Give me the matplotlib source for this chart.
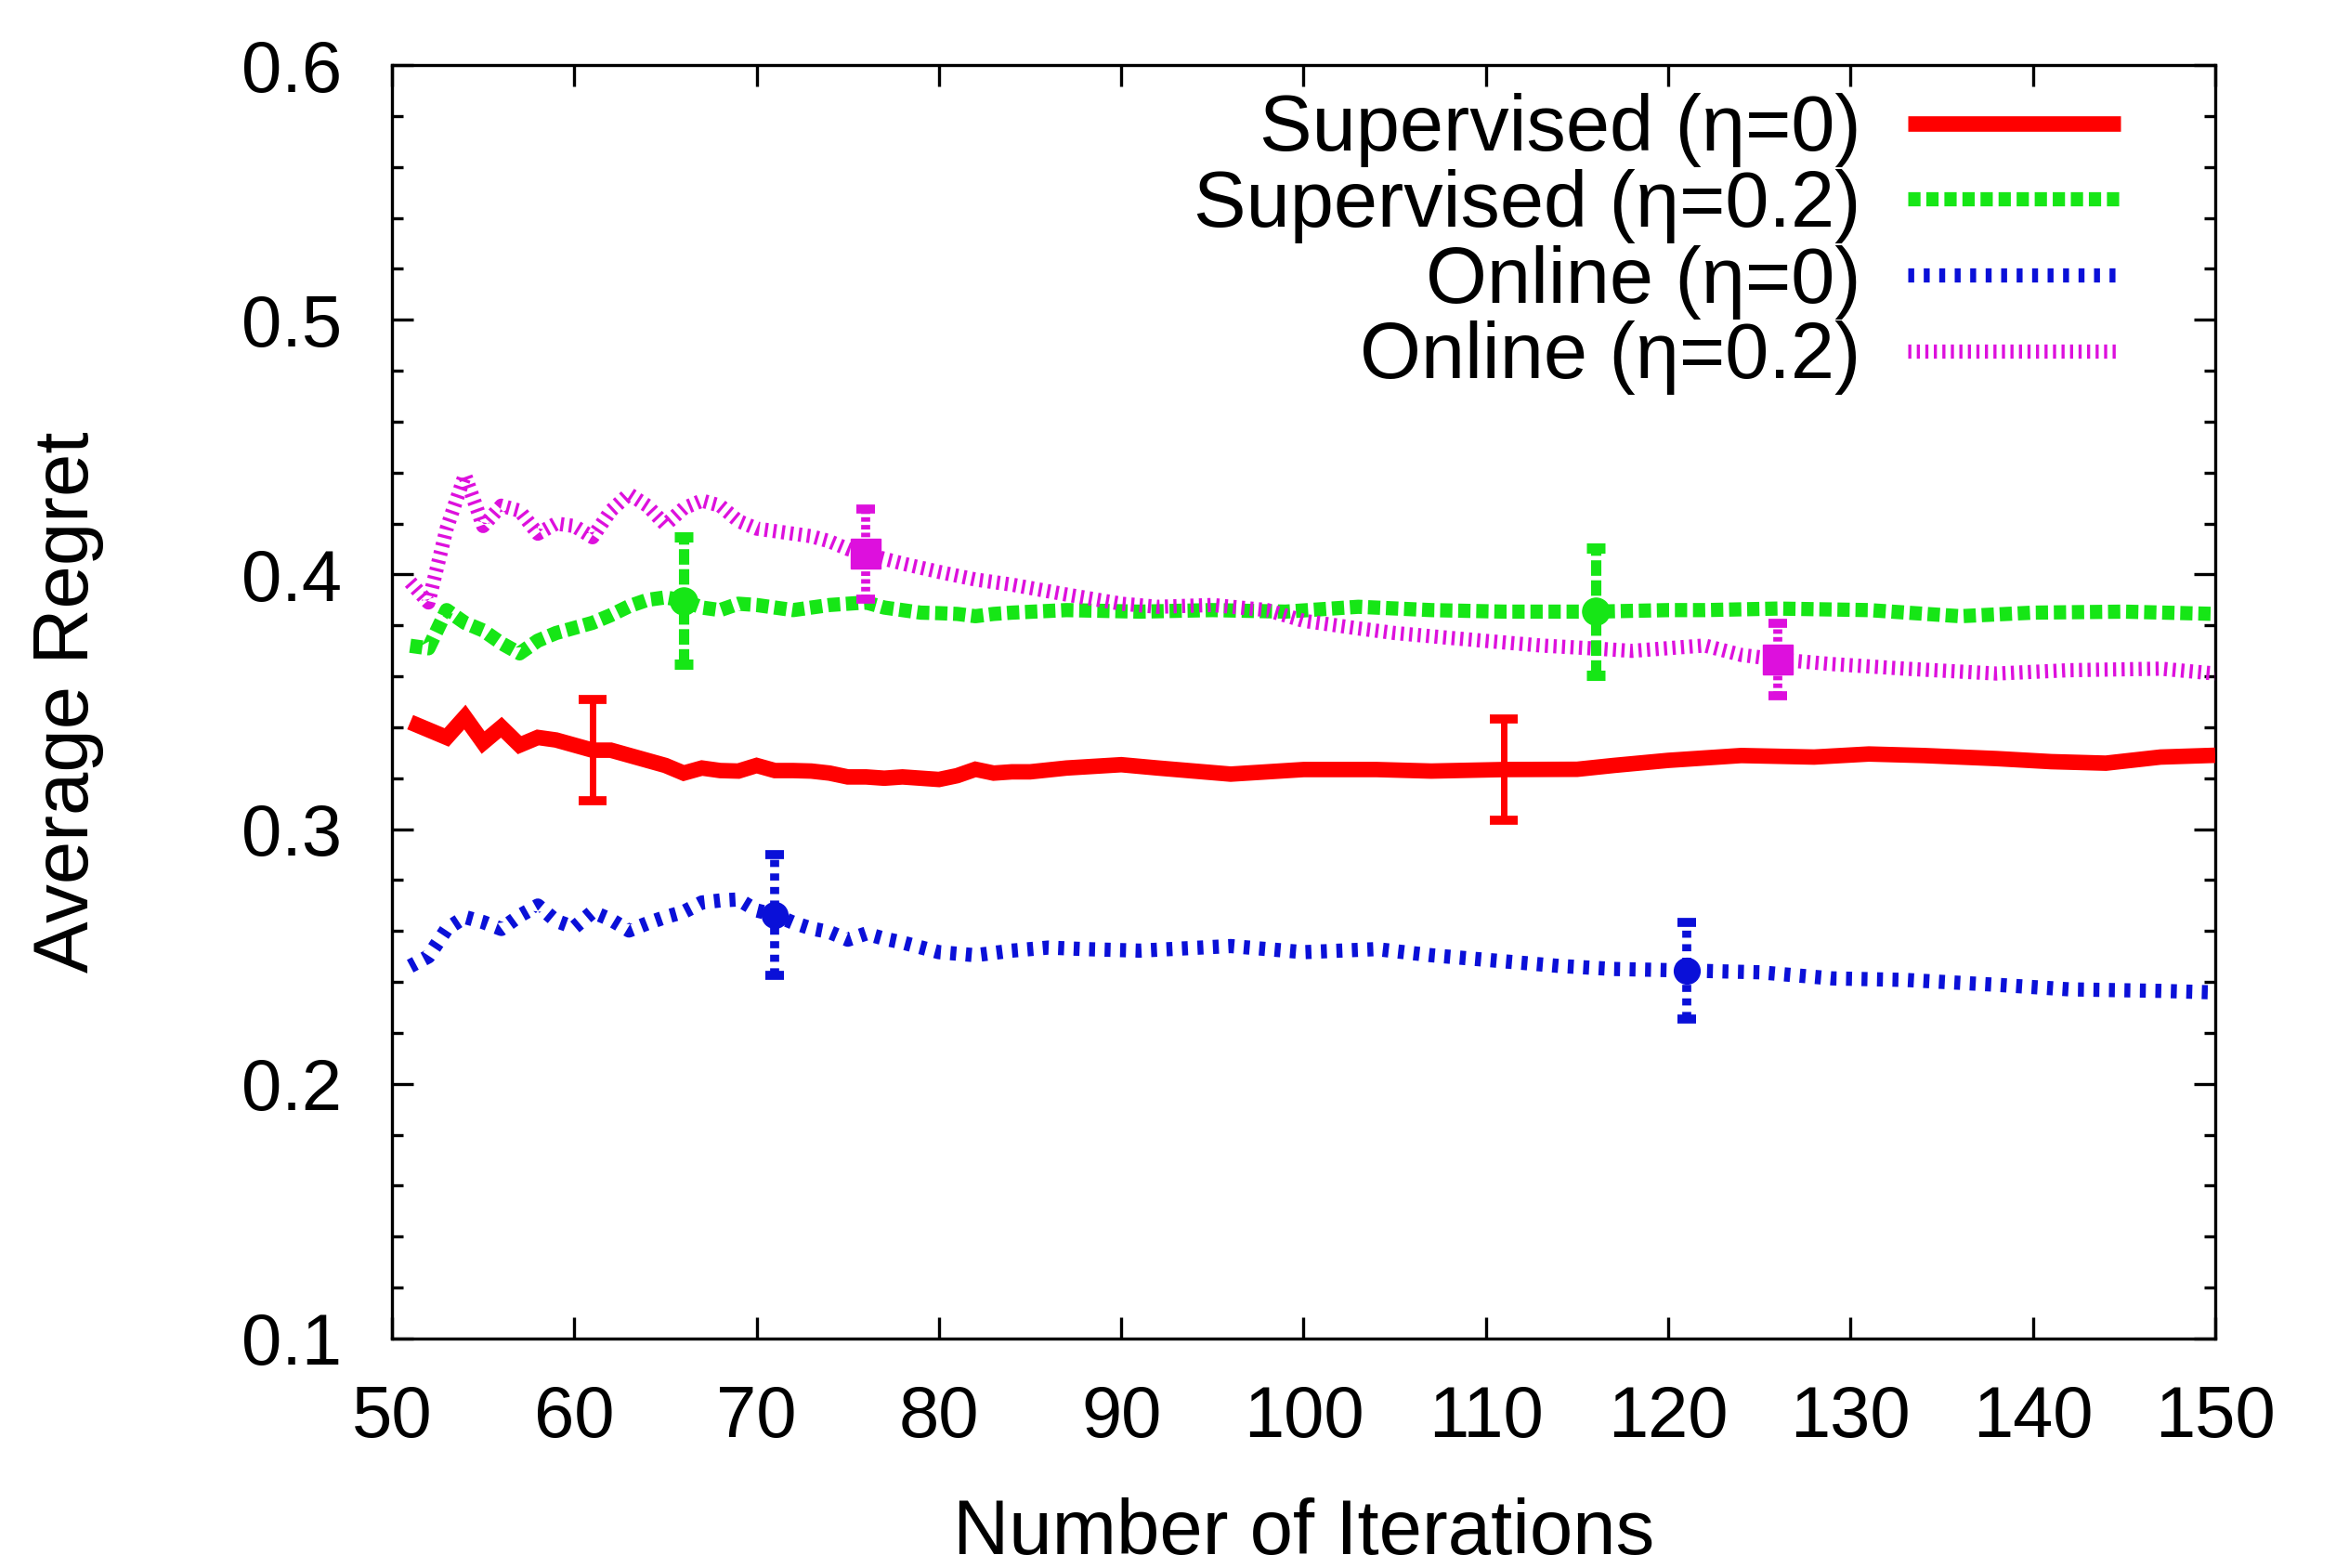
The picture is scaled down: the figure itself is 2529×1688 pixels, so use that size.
import matplotlib
matplotlib.use("Agg")
import matplotlib.pyplot as plt
from matplotlib.ticker import MultipleLocator

plt.rcParams['font.family'] = ['Liberation Sans', 'DejaVu Sans']
plt.rcParams['lines.scale_dashes'] = False

# ---------------- data ----------------
sup0_x = [51, 52, 53, 54, 55, 56, 57, 58, 59, 60, 61, 62, 63, 64, 65, 66, 67, 68, 69, 70,
          71, 72, 73, 74, 75, 76, 77, 78, 79, 80, 81, 82, 83, 84, 85, 87, 90, 92, 96, 100,
          104, 107, 111, 115, 117, 120, 124, 128, 131, 134, 138, 141, 144, 147, 150]
sup0_y = [0.342, 0.339, 0.336, 0.344, 0.334, 0.340, 0.333, 0.336, 0.335, 0.333, 0.331, 0.331,
          0.329, 0.327, 0.325, 0.322, 0.324, 0.323, 0.3228, 0.325, 0.323, 0.323, 0.3228, 0.322,
          0.3205, 0.3205, 0.320, 0.3205, 0.320, 0.3195, 0.321, 0.3235, 0.322, 0.3225, 0.3225,
          0.324, 0.3253, 0.324, 0.3216, 0.3234, 0.3234, 0.3228, 0.3234, 0.3235, 0.325, 0.327,
          0.3289, 0.3283, 0.3295, 0.3289, 0.3277, 0.3265, 0.3259, 0.3283, 0.329]

sup2_x = [51, 52, 53, 54, 55, 56, 57, 58, 59, 60, 61, 62, 63, 64, 65, 66, 67, 68, 69, 70,
          71, 72, 73, 74, 75, 76, 77, 78, 79, 80, 81, 82, 83, 84, 87, 91, 95, 99, 103, 107,
          111, 116, 120, 122, 126, 131, 136, 140, 145, 150]
sup2_y = [0.372, 0.371, 0.386, 0.381, 0.378, 0.373, 0.369, 0.374, 0.377, 0.379, 0.381, 0.384,
          0.3875, 0.390, 0.391, 0.3897, 0.387, 0.386, 0.3885, 0.388, 0.387, 0.386, 0.387, 0.388,
          0.3885, 0.389, 0.387, 0.386, 0.385, 0.3848, 0.3845, 0.3836, 0.3845, 0.385, 0.386,
          0.3854, 0.386, 0.3854, 0.3873, 0.386, 0.3854, 0.3854, 0.386, 0.386, 0.3866, 0.386,
          0.3836, 0.385, 0.3854, 0.3845]

onl0_x = [51, 52, 53, 54, 55, 56, 57, 58, 59, 60, 61, 62, 63, 64, 65, 66, 67, 68, 69, 70,
          71, 72, 73, 74, 75, 76, 77, 78, 80, 82, 84, 86, 88, 91, 96, 100, 104, 107, 110, 114,
          117, 121, 125, 129, 133, 138, 142, 147, 150]
onl0_y = [0.2462, 0.250, 0.2608, 0.2655, 0.2635, 0.2608, 0.266, 0.270, 0.264, 0.2614, 0.2675,
          0.2645, 0.2602, 0.263, 0.2655, 0.2675, 0.2712, 0.272, 0.2724, 0.2681, 0.2663, 0.2633,
          0.261, 0.2596, 0.2566, 0.259, 0.257, 0.2555, 0.2517, 0.2505, 0.2523, 0.2535, 0.2529,
          0.2523, 0.2541, 0.2517, 0.2529, 0.2505, 0.2487, 0.2463, 0.2451, 0.2445, 0.2438,
          0.2414, 0.2408, 0.2389, 0.2371, 0.2365, 0.2359]

onl2_x = [51, 52, 53, 54, 55, 56, 57, 58, 59, 60, 61, 62, 63, 64, 65, 66, 67, 68, 69, 70,
          71, 72, 73, 74, 75, 76, 78, 80, 82, 84, 87, 90, 92, 95, 98, 100, 103, 105, 108, 111,
          113, 116, 118, 122, 124, 126, 129, 133, 138, 142, 147, 150]
onl2_y = [0.397, 0.389, 0.418, 0.439, 0.419, 0.427, 0.425, 0.416, 0.420, 0.419, 0.4146,
          0.425, 0.4316, 0.427, 0.4195, 0.426, 0.429, 0.427, 0.421, 0.418, 0.417, 0.416, 0.415,
          0.413, 0.410, 0.408, 0.4043, 0.401, 0.398, 0.396, 0.3921, 0.3885, 0.3873, 0.388,
          0.386, 0.3818, 0.3788, 0.377, 0.3751, 0.3733, 0.3721, 0.3709, 0.370, 0.3721, 0.3684,
          0.3666, 0.3648, 0.363, 0.3611, 0.3624, 0.363, 0.3611]

# error bars (x, centre, half-width)
sup0_ex = [61, 111]; sup0_ey = [0.331, 0.3234]; sup0_ee = [0.020, 0.0198]
sup2_ex = [66, 116]; sup2_ey = [0.3897, 0.3854]; sup2_ee = [0.025, 0.025]
onl0_ex = [71, 121]; onl0_ey = [0.2663, 0.2445]; onl0_ee = [0.0237, 0.019]
onl2_ex = [76, 126]; onl2_ey = [0.408, 0.3666]; onl2_ee = [0.0177, 0.0143]

labels = ['Supervised (η=0)', 'Supervised (η=0.2)', 'Online (η=0)', 'Online (η=0.2)']
xticks = [50, 60, 70, 80, 90, 100, 110, 120, 130, 140, 150]
yticks = [0.1, 0.2, 0.3, 0.4, 0.5, 0.6]

# ---------------- figure ----------------
fig = plt.figure(figsize=(25.29, 16.88), dpi=100)
ax = fig.add_axes([0.16686, 0.14633, 0.7762, 0.8122])

c_red, c_green, c_blue, c_mag = '#ff0000', '#16e616', '#0a10d8', '#dd10dd'

l1, = ax.plot(sup0_x, sup0_y, color=c_red, lw=12, solid_joinstyle='miter',
              solid_capstyle='butt', label=labels[0], zorder=4)
l2, = ax.plot(sup2_x, sup2_y, color=c_green, lw=11, dashes=(9.5, 4.5),
              label=labels[1], zorder=3)
l3, = ax.plot(onl0_x, onl0_y, color=c_blue, lw=11, dashes=(4.6, 7.4),
              label=labels[2], zorder=3)
l4, = ax.plot(onl2_x, onl2_y, color=c_mag, lw=11, dashes=(2.4, 4.2),
              label=labels[3], zorder=3)

# error bars
ax.errorbar(sup0_ex, sup0_ey, yerr=sup0_ee, fmt='none', ecolor=c_red,
            elinewidth=5, capsize=11, capthick=7, zorder=5)

def dashed_err(xs, ys, es, color, lw, dash, cap):
    eb = ax.errorbar(xs, ys, yerr=es, fmt='none', ecolor=color, elinewidth=lw,
                     capsize=cap, capthick=lw, zorder=5)
    for col in eb[2]:
        col.set_linestyle((0, dash))
    return eb

dashed_err(sup2_ex, sup2_ey, sup2_ee, c_green, 8, (12, 3.5), 7.5)
dashed_err(onl0_ex, onl0_ey, onl0_ee, c_blue, 7, (5.5, 5), 7.5)
dashed_err(onl2_ex, onl2_ey, onl2_ee, c_mag, 7, (3.5, 2.5), 7.5)

ax.plot(sup2_ex, sup2_ey, 'o', color=c_green, ms=21, zorder=6)
ax.plot(onl0_ex, onl0_ey, 'o', color=c_blue, ms=20, zorder=6)
ax.plot(onl2_ex, onl2_ey, 's', color=c_mag, ms=23, zorder=6)

# axes
ax.set_xlim(50, 150)
ax.set_ylim(0.1, 0.6)
ax.set_xticks(xticks)
ax.set_yticks(yticks)
ax.set_yticklabels([f'{v:.1f}' for v in yticks])
ax.yaxis.set_minor_locator(MultipleLocator(0.02))
for s in ax.spines.values():
    s.set_linewidth(2.4)
ax.tick_params(axis='both', which='both', direction='in', top=True, right=True,
               width=2.4, labelsize=56)
ax.tick_params(axis='both', which='major', length=16.5)
ax.tick_params(axis='y', which='minor', length=8.6)
ax.tick_params(axis='x', which='major', pad=35)
ax.tick_params(axis='y', which='major', pad=39)

ax.set_xlabel('Number of Iterations', fontsize=60)
ax.set_ylabel('Average Regret', fontsize=60)
ax.xaxis.set_label_coords(0.5, -0.1692)
ax.xaxis.label.set_va('baseline')
ax.yaxis.set_label_coords(-0.178, 0.5)
ax.yaxis.label.set_va('center')

leg = ax.legend(handles=[l1, l2, l3, l4], loc='upper right',
                bbox_to_anchor=(0.948, 0.978), frameon=False, markerfirst=False,
                fontsize=61, handlelength=2.7, handletextpad=0.6,
                labelspacing=0.02, borderpad=0, borderaxespad=0)
leg.set_zorder(10)

fig.savefig('out.png', dpi=100)
